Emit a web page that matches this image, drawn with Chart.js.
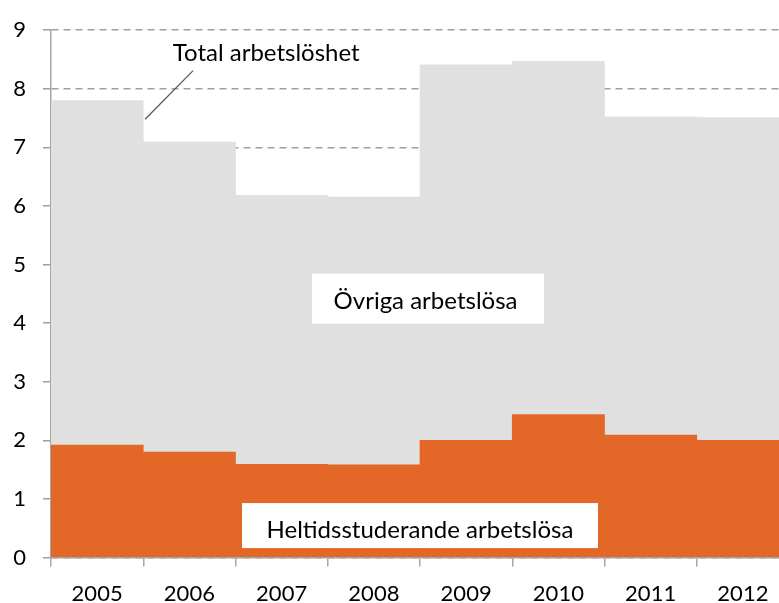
<!DOCTYPE html>
<html>
<head>
<meta charset="utf-8">
<script src="https://cdn.jsdelivr.net/npm/chart.js@4/dist/chart.umd.min.js"></script>
<style>
html,body{margin:0;padding:0;background:#fff;overflow:hidden;width:779px;height:603px;}
#wrap{position:absolute;left:0;top:0;width:790px;height:603px;}
</style>
</head>
<body>
<div id="wrap"><canvas id="c" width="790" height="603"></canvas></div>
<script>
const years = ['2005','2006','2007','2008','2009','2010','2011','2012'];
const heltid = [1.92, 1.80, 1.59, 1.58, 2.00, 2.44, 2.09, 2.00];
const ovriga = [5.88, 5.29, 4.59, 4.57, 6.41, 6.03, 5.43, 5.51];
const yTicks = [0,1,2,3,4,5,6,7,8,9];
const labelTotal = 'Total arbetslöshet';
const labelOvriga = 'Övriga arbetslösa';
const labelHeltid = 'Heltidsstuderande arbetslösa';

const FONT = 'Lato, "Open Sans", sans-serif';

const annot = {
  id: 'annot',
  afterDatasetsDraw(chart) {
    const ctx = chart.ctx, x = chart.scales.x, y = chart.scales.y;
    ctx.save();
    ctx.font = '24px ' + FONT;
    ctx.textAlign = 'center';
    ctx.textBaseline = 'alphabetic';
    // Total label + leader line
    ctx.fillStyle = '#000';
    ctx.fillText(labelTotal, x.getPixelForValue(1.833), y.getPixelForValue(8.468));
    ctx.strokeStyle = '#595959';
    ctx.lineWidth = 1.3;
    ctx.beginPath();
    ctx.moveTo(x.getPixelForValue(1.04), y.getPixelForValue(8.31));
    ctx.lineTo(x.getPixelForValue(0.52), y.getPixelForValue(7.48));
    ctx.stroke();
    // boxes
    function box(text, bx, by, w, h, tx, ty) {
      const px = x.getPixelForValue(bx), py = y.getPixelForValue(by);
      ctx.fillStyle = '#fff';
      ctx.fillRect(px - w/2, py - h/2, w, h);
      ctx.fillStyle = '#000';
      ctx.fillText(text, x.getPixelForValue(tx), y.getPixelForValue(ty));
    }
    box(labelOvriga, 3.588, 4.417, 232, 50, 3.56, 4.242);
    box(labelHeltid, 3.5, 0.545, 356, 45, 3.499, 0.337);
    ctx.restore();
  }
};

new Chart(document.getElementById('c'), {
  type: 'bar',
  data: {
    labels: years,
    datasets: [
      { label: labelHeltid, data: heltid, backgroundColor: '#E36726', borderWidth: 0 },
      { label: labelOvriga, data: ovriga, backgroundColor: '#E0E0E0', borderWidth: 0 }
    ]
  },
  options: {
    responsive: false,
    animation: false,
    devicePixelRatio: 1,
    layout: { padding: { top: 27, right: 1, left: 0, bottom: 0 } },
    plugins: { legend: { display: false }, tooltip: { enabled: false } },
    datasets: { bar: { barPercentage: 1.0, categoryPercentage: 1.0 } },
    scales: {
      x: {
        stacked: true,
        offset: true,
        grid: { offset: true, drawOnChartArea: false, drawTicks: true, tickLength: 9, color: '#a6a6a6', lineWidth: 1.5 },
        border: { display: true, color: '#a6a6a6', width: 1.5 },
        ticks: { color: '#000', font: { family: FONT, size: 22 }, padding: 14, maxRotation: 0 },
        afterFit(s) { s.height = 45.5; }
      },
      y: {
        stacked: true,
        min: 0, max: 9,
        afterBuildTicks(s) { s.ticks = yTicks.map(v => ({ value: v })); },
        grid: { color: '#a0a0a0', lineWidth: 1.5, tickLength: 8, tickBorderDash: [], drawTicks: true },
        border: { display: true, color: '#a6a6a6', width: 1.5, dash: [7,5] },
        ticks: { color: '#000', font: { family: FONT, size: 22 }, padding: 17 },
        afterFit(s) { s.width = 51; }
      }
    }
  },
  plugins: [annot]
});
</script>
</body>
</html>
